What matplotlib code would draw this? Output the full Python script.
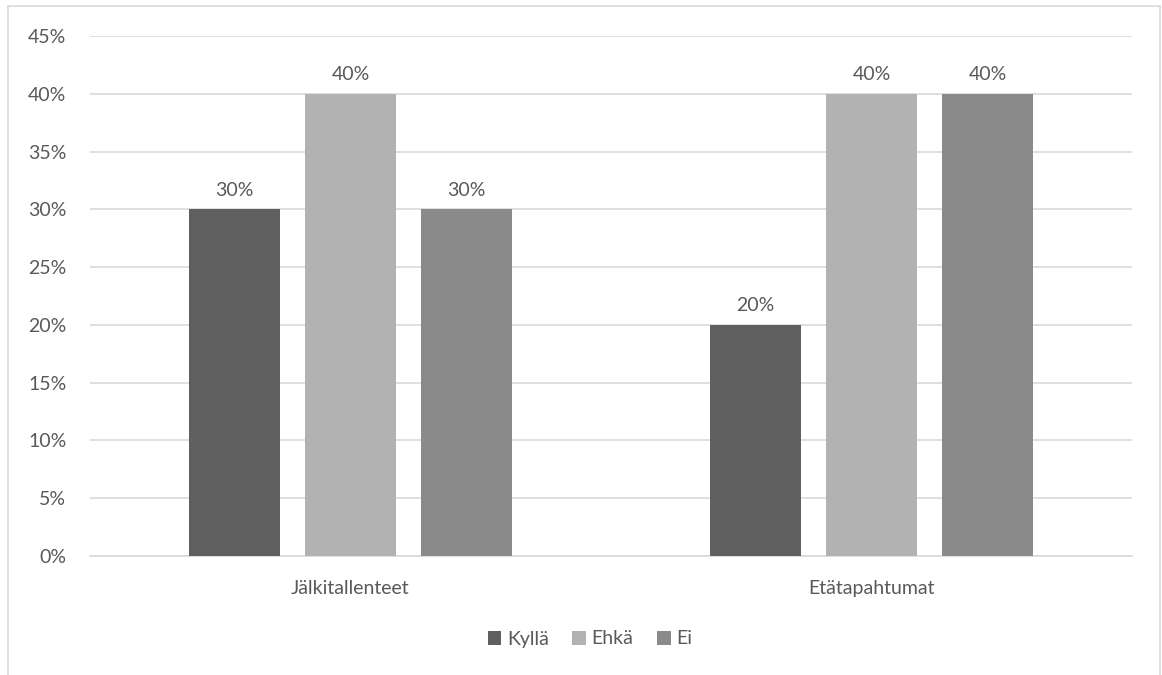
import matplotlib.pyplot as plt
import numpy as np
from matplotlib.patches import Rectangle

# Data
categories = ['Jälkitallenteet', 'Etätapahtumat']
series = ['Kyllä', 'Ehkä', 'Ei']
values = {
    'Kyllä': [0.30, 0.20],
    'Ehkä': [0.40, 0.40],
    'Ei': [0.30, 0.40],
}
colors = ['#5f5f5f', '#b2b2b2', '#8a8a8a']

plt.rcParams['font.family'] = ['Lato', 'DejaVu Sans']
txt = '#595959'
fs = 14

fig = plt.figure(figsize=(11.62, 6.75), dpi=100)
ax = fig.add_axes([90 / 1162, 1 - 556 / 675, 1042 / 1162, 520 / 675])

x = np.arange(len(categories))
width = 0.1747
step = 0.2226
for i, (name, col) in enumerate(zip(series, colors)):
    pos = x + (i - 1) * step
    bars = ax.bar(pos, values[name], width, color=col, label=name, zorder=3)
    for b, v in zip(bars, values[name]):
        ax.text(b.get_x() + b.get_width() / 2, v + 0.009, f'{v:.0%}',
                ha='center', va='bottom', fontsize=fs, color=txt)

ax.set_xlim(-0.5, 1.5)
ax.set_ylim(0, 0.45)
ax.set_yticks(np.arange(0, 0.451, 0.05))
ax.set_yticklabels([f'{int(round(t * 100))}%' for t in np.arange(0, 0.451, 0.05)])
ax.set_xticks(x)
ax.set_xticklabels(categories)
ax.grid(axis='y', color='#d9d9d9', linewidth=1.2, zorder=0)
for s in ['top', 'right', 'left']:
    ax.spines[s].set_visible(False)
ax.spines['bottom'].set_color('#d9d9d9')
ax.spines['bottom'].set_linewidth(1.2)
ax.tick_params(axis='both', length=0, labelsize=fs, labelcolor=txt)
ax.tick_params(axis='y', pad=17)
ax.tick_params(axis='x', pad=17)

fig.legend(loc='center', bbox_to_anchor=(590 / 1162, 1 - 639 / 675), ncol=3,
           frameon=False, fontsize=fs, labelcolor=txt, handlelength=0.7,
           handleheight=0.7, handletextpad=0.3, columnspacing=1.2)

fig.patches.append(Rectangle((8 / 1162, -0.05), 1152 / 1162, 1.05 - 6 / 675,
                             transform=fig.transFigure, fill=False,
                             edgecolor='#d9d9d9', linewidth=1.2))

fig.savefig('out.png', dpi=100, facecolor='white')
